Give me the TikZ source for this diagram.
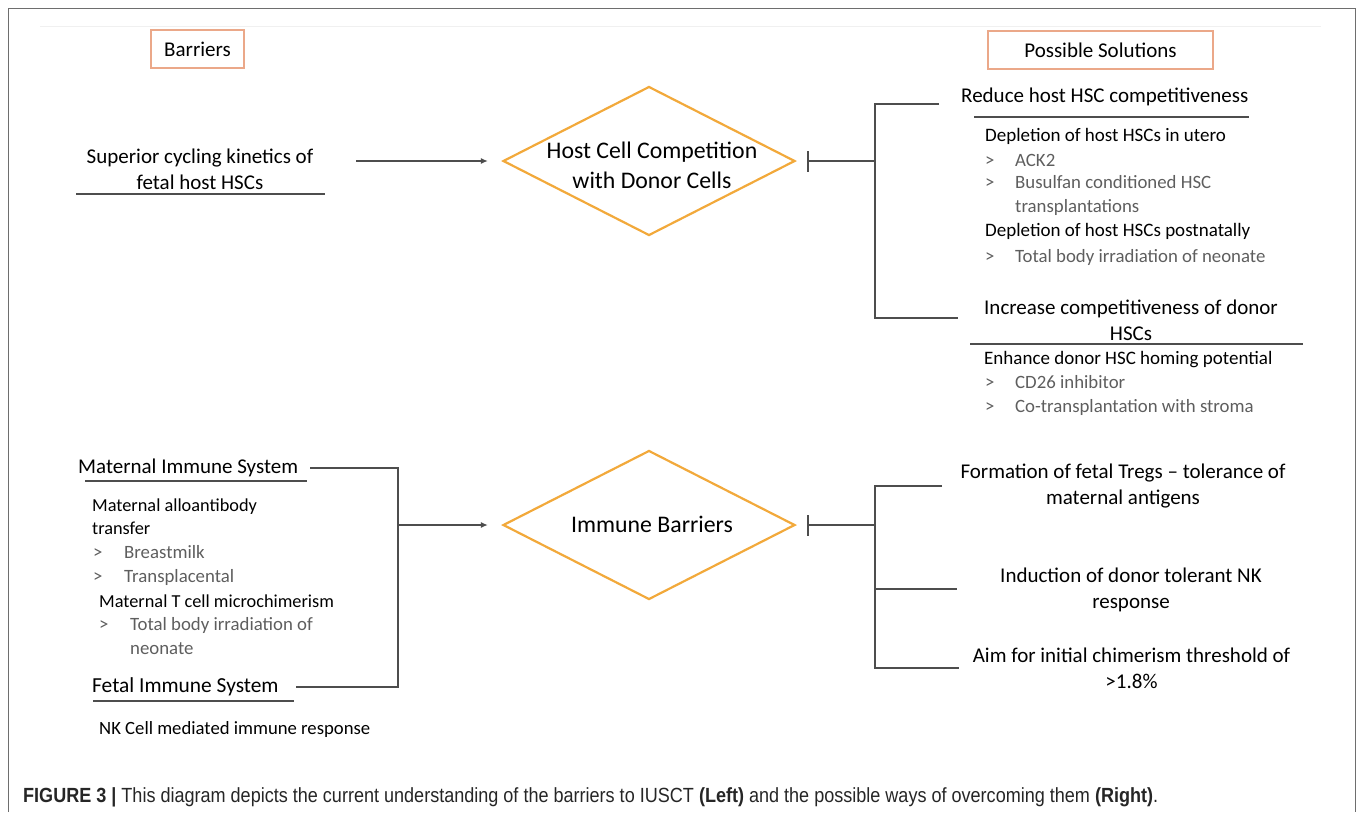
\documentclass[tikz,border=0pt]{standalone}
\usepackage{fontspec}
\setmainfont{Carlito}
\newfontfamily\capfont[FakeStretch=0.88]{Liberation Sans}
\usetikzlibrary{shapes.geometric,arrows.meta}

\definecolor{dmdorange}{HTML}{F2A93B}
\definecolor{boxorange}{HTML}{EBA889}
\definecolor{linegray}{HTML}{4D4D4D}
\definecolor{itemgray}{HTML}{5E5E5E}
\definecolor{framegray}{HTML}{6E6E6E}

\newcommand{\itemmark}{\makebox[30pt][l]{>}}

\tikzset{
  txt/.style={inner sep=0pt},
  one/.style={txt, text height=14pt, text depth=4pt},
  head/.style={txt, font=\fontsize{21}{26}\selectfont},
  sub/.style={one, anchor=west, font=\fontsize{19}{24}\selectfont},
  itm/.style={one, anchor=west, text=itemgray, font=\fontsize{18.8}{24}\selectfont},
  ttlbox/.style={draw=boxorange, line width=1.3pt, minimum height=38pt, inner sep=0pt,
    font=\fontsize{21}{26}\selectfont},
  dmd/.style={diamond, draw=dmdorange, line width=2.2pt, minimum width=292pt,
    minimum height=149pt, inner sep=0pt},
  conn/.style={draw=linegray, line width=1.5pt},
  arr/.style={conn, -{Latex[length=7pt,width=6pt]}},
  blk/.style={conn, {Bar[width=21pt]}-},
  uline/.style={draw=linegray, line width=1.4pt},
}

\begin{document}
\begin{tikzpicture}[x=1pt, y=-1pt]
  \useasboundingbox (0,0) rectangle (1358,812);

  % frame
  \draw[framegray, line width=1.8pt] (8.5,812) -- (8.5,8.5) -- (1355.5,8.5) -- (1355.5,812);
  \draw[black!6, line width=1pt] (40,26) -- (1321,26);

  % column titles
  \node[ttlbox, minimum width=93pt] (bar) at (197.5,49) {Barriers};
  \node[ttlbox, minimum width=225pt] (sol) at (1100.5,50) {Possible Solutions};

  % host cell competition
  \node[head, align=center] (sup) at (200,169.5) {Superior cycling kinetics of\\fetal host HSCs};
  \draw[uline] (76,194) -- (325,194);
  \node[dmd] (hcc) at (649,161) {};
  \node[txt, align=center, font=\fontsize{23.8}{30}\selectfont] (hcct) at (652,165)
    {Host Cell Competition\\with Donor Cells};
  \coordinate (a1) at (356,161);
  \draw[arr, shorten >=14pt] (a1) -- (hcc.west);

  \coordinate (j1) at (875,161);
  \draw[blk, shorten <=11pt] (hcc.east) -- (j1);
  \coordinate (r1) at (939,104);
  \coordinate (r2) at (958,318);
  \draw[conn] (r1) -| (j1) |- (r2);

  \node[one, anchor=west, font=\fontsize{21}{26}\selectfont] (red) at (961,97)
    {Reduce host HSC competitiveness};
  \draw[uline] (974,117) -- (1249,117);
  \node[sub] (dut) at (985,136) {Depletion of host HSCs in utero};
  \node[itm] (ack) at (985,161) {\itemmark ACK2};
  \node[itm] (bus) at (985,183) {\itemmark Busulfan conditioned HSC};
  \node[itm] (trp) at (1015,207) {transplantations};
  \node[sub] (dpn) at (985,231) {Depletion of host HSCs postnatally};
  \node[itm] (tbi) at (985,257) {\itemmark Total body irradiation of neonate};

  \node[head, align=center] (inc) at (1131,320) {Increase competitiveness of donor\\HSCs};
  \draw[uline] (970,344) -- (1303,344);
  \node[sub] (enh) at (984,359) {Enhance donor HSC homing potential};
  \node[itm] (cd) at (985,383) {\itemmark CD26 inhibitor};
  \node[itm] (cot) at (985,407) {\itemmark Co-transplantation with stroma};

  % immune barriers
  \node[one, anchor=west, font=\fontsize{21}{26}\selectfont] (mis) at (78,468) {Maternal Immune System};
  \draw[uline] (85,481) -- (307,481);
  \node[sub, font=\fontsize{18.3}{24}\selectfont] (mal) at (92,506) {Maternal alloantibody};
  \node[sub, font=\fontsize{18.3}{24}\selectfont] (trf) at (92,529) {transfer};
  \node[itm] (brm) at (93,553) {\makebox[31pt][l]{>}Breastmilk};
  \node[itm] (tpl) at (93,577) {\makebox[31pt][l]{>}Transplacental};
  \node[sub, font=\fontsize{18.3}{24}\selectfont] (mtc) at (99,602) {Maternal T cell microchimerism};
  \node[itm] (tbl) at (99,625) {\makebox[31pt][l]{>}Total body irradiation of};
  \node[itm] (neo) at (130,649) {neonate};
  \node[one, anchor=west, font=\fontsize{21.4}{26}\selectfont] (fis) at (92,687) {Fetal Immune System};
  \draw[uline] (93,701) -- (294,701);
  \node[sub, font=\fontsize{18.7}{24}\selectfont] (nkc) at (99,729) {NK Cell mediated immune response};

  \node[dmd] (imb) at (649,525) {};
  \node[one, font=\fontsize{23.8}{30}\selectfont] (imbt) at (652,527) {Immune Barriers};
  \coordinate (jl) at (398,525);
  \draw[conn] ([xshift=12pt]mis.east) -| (jl) |- ([xshift=17pt]fis.east);
  \draw[arr, shorten >=14pt] (jl) -- (imb.west);

  \coordinate (j2) at (875,525);
  \draw[blk, shorten <=11pt] (imb.east) -- (j2);
  \coordinate (s1) at (942,486);
  \coordinate (s2) at (957,589);
  \coordinate (s3) at (959,668);
  \draw[conn] (s1) -| (j2) |- (s3);
  \draw[conn] (j2 |- s2) -- (s2);

  \node[head, align=center] (ftr) at (1123,486.5) {Formation of fetal Tregs – tolerance of\\maternal antigens};
  \node[head, align=center] (ind) at (1131,590) {Induction of donor tolerant NK\\response};
  \node[head, align=center] (aim) at (1131.5,668.5) {Aim for initial chimerism threshold of\\>1.8\%};

  % caption
  \node[one, anchor=west, text=black!85, font=\capfont\fontsize{20.5}{24}\selectfont] (cap) at (23,797)
    {\textbf{FIGURE 3 |} This diagram depicts the current understanding of the barriers to IUSCT
     \textbf{(Left)} and the possible ways of overcoming them \textbf{(Right)}.};
\end{tikzpicture}
\end{document}
